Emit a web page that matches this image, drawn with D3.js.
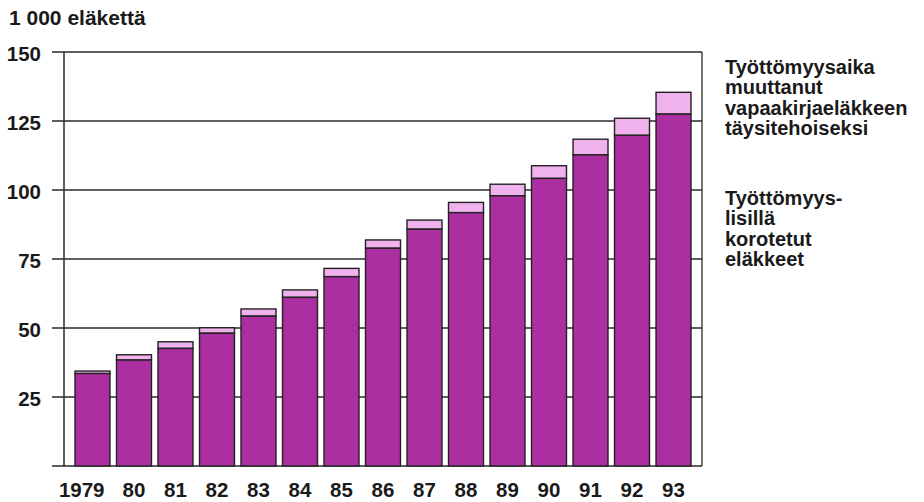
<!DOCTYPE html>
<html>
<head>
<meta charset="utf-8">
<script src="https://cdn.jsdelivr.net/npm/d3@7"></script>
<style>
  html, body { margin: 0; padding: 0; background: #fff; }
  svg { display: block; }
  text { font-family: "Liberation Sans", Arial, Helvetica, sans-serif; font-weight: bold; fill: #1a1a1a; }
</style>
</head>
<body>
<svg id="chart" width="924" height="502"></svg>
<script>
// ---- data ----
const years = ["1979","80","81","82","83","84","85","86","87","88","89","90","91","92","93"];
// Työttömyyslisillä korotetut eläkkeet (1 000 eläkettä)
const korotetut = [33.5, 38.4, 42.6, 48.1, 54.3, 61.1, 68.6, 78.9, 85.8, 91.8, 97.9, 104.2, 112.7, 119.8, 127.5];
// Työttömyysaika muuttanut vapaakirjaeläkkeen täysitehoiseksi
const taysitehoiseksi = [0.9, 1.9, 2.4, 2.0, 2.6, 2.7, 3.0, 3.0, 3.3, 3.7, 4.2, 4.6, 5.7, 6.2, 7.9];
const yTicks = [0, 25, 50, 75, 100, 125, 150];
const unitLabel = "1 000 eläkettä";
const legendTop = ["Työttömyysaika", "muuttanut", "vapaakirjaeläkkeen", "täysitehoiseksi"];
const legendBottom = ["Työttömyys-", "lisillä", "korotetut", "eläkkeet"];

(function () {
// ---- layout ----
const svg = d3.select("#chart");
const pLeft = 64, pRight = 702, pTop = 52, pBottom = 466;
const darkColor = "#ab2fa0";
const lightColor = "#efb2ed";

const x = d3.scaleBand().domain(years).range([pLeft, pRight]).paddingInner(0.157).paddingOuter(0.265);
const y = d3.scaleLinear().domain([0, 150]).range([pBottom, pTop]);

// gridlines + left tick marks
svg.append("g").selectAll("line").data(yTicks).join("line")
  .attr("x1", 52).attr("x2", pRight)
  .attr("y1", d => y(d)).attr("y2", d => y(d))
  .attr("stroke", "#2a2a2a").attr("stroke-width", 1.3);

// frame verticals
svg.append("line").attr("x1", pLeft).attr("x2", pLeft).attr("y1", pTop).attr("y2", pBottom)
  .attr("stroke", "#2a2a2a").attr("stroke-width", 1.5);
svg.append("line").attr("x1", pRight).attr("x2", pRight).attr("y1", pTop).attr("y2", pBottom)
  .attr("stroke", "#2a2a2a").attr("stroke-width", 1.3);

// y tick labels
svg.append("g").selectAll("text").data(yTicks.filter(d => d > 0)).join("text")
  .attr("x", 41).attr("y", d => y(d) + 9)
  .attr("text-anchor", "end")
  .attr("font-size", 20.5)
  .text(d => d);

// bars
const bars = svg.append("g");
years.forEach((yr, i) => {
  const x0 = x(yr), w = x.bandwidth();
  const d = korotetut[i], l = taysitehoiseksi[i];
  bars.append("rect")
    .attr("x", x0).attr("width", w)
    .attr("y", y(d + l)).attr("height", y(d) - y(d + l))
    .attr("fill", lightColor).attr("stroke", "#222").attr("stroke-width", 1.4);
  bars.append("rect")
    .attr("x", x0).attr("width", w)
    .attr("y", y(d)).attr("height", y(0) - y(d))
    .attr("fill", darkColor).attr("stroke", "#222").attr("stroke-width", 1.4);
});

// x labels
svg.append("g").selectAll("text").data(years).join("text")
  .attr("x", d => d.length > 2 ? x(d) + x.bandwidth() / 2 + 12 : x(d) + x.bandwidth() / 2)
  .attr("y", 497)
  .attr("text-anchor", d => d.length > 2 ? "end" : "middle")
  .attr("font-size", 20.5)
  .text(d => d);

// unit label
svg.append("text").attr("x", 9).attr("y", 25).attr("font-size", 21).text(unitLabel);

// legend text
const lg = svg.append("g").attr("font-size", 20);
legendTop.forEach((t, i) => {
  lg.append("text").attr("x", 725).attr("y", 74 + i * 20.4).text(t);
});
legendBottom.forEach((t, i) => {
  lg.append("text").attr("x", 725).attr("y", 205 + i * 20.4).text(t);
});
})();
</script>
</body>
</html>
